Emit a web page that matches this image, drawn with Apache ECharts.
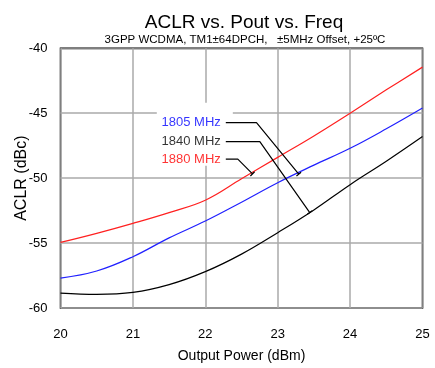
<!DOCTYPE html>
<html>
<head>
<meta charset="utf-8">
<script src="https://cdn.jsdelivr.net/npm/echarts@6/dist/echarts.min.js"></script>
<style>html,body{margin:0;padding:0;background:#fff}#c{width:435px;height:368px}</style>
</head>
<body>
<div id="c"></div>
<script>
const pout = [20, 20.5, 21, 21.5, 22, 22.5, 23, 23.5, 24, 24.5, 25];
const aclr1805 = [-57.7, -57.15, -56.05, -54.6, -53.3, -51.85, -50.35, -49.0, -47.7, -46.2, -44.6];
const aclr1840 = [-58.85, -58.95, -58.8, -58.2, -57.2, -55.85, -54.2, -52.45, -50.5, -48.7, -46.8];
const aclr1880 = [-54.95, -54.25, -53.48, -52.65, -51.7, -50.05, -48.4, -46.75, -45.0, -43.2, -41.45];
const xTicks = [20, 21, 22, 23, 24, 25];
const yTicks = [-60, -55, -50, -45, -40];
const labels = ['1805 MHz', '1840 MHz', '1880 MHz'];
const labelColors = ['#0000ff', '#000000', '#ff0000'];
// leader lines [start, knee, end, tick, tick] in data units
const leader1805 = [[22.283, -45.72], [22.707, -45.72], [23.291, -49.69], [23.323, -49.544], [23.259, -49.836]];
const leader1840 = [[22.283, -47.18], [22.753, -47.18], [23.443, -52.65], [23.477, -52.517], [23.409, -52.783]];
const leader1880 = [[22.283, -48.54], [22.449, -48.54], [22.652, -49.67], [22.681, -49.507], [22.623, -49.833]];
const labelBox = [[21.33, -44.2], [22.38, -49.05]];

const FONT = 'Liberation Sans, Arial, Helvetica, sans-serif';
const chart = echarts.init(document.getElementById('c'));
const zip = (xs, ys) => xs.map((x, i) => [x, ys[i]]);
const leaders = [leader1805, leader1840, leader1880];

function leaderSeries(pts, withBox) {
  const s = {
    type: 'line', data: pts, symbol: 'none',
    lineStyle: {color: '#000', width: 1.2}, silent: true, z: 4
  };
  if (withBox) {
    s.markArea = {silent: true, itemStyle: {color: '#fff'},
      data: [[{coord: labelBox[0]}, {coord: labelBox[1]}]]};
  }
  return s;
}

chart.setOption({
  animation: false,
  backgroundColor: '#fff',
  title: [
    {text: 'ACLR vs. Pout vs. Freq', left: 239, top: 8, textAlign: 'center',
      textStyle: {fontSize: 19, fontWeight: 'normal', color: '#000', fontFamily: FONT}},
    {text: '3GPP WCDMA, TM1±64DPCH,   ±5MHz Offset, +25ºC', left: 240, top: 29, textAlign: 'center',
      textStyle: {fontSize: 11.5, fontWeight: 'normal', color: '#000', fontFamily: FONT}}
  ],
  grid: {left: 60.5, top: 48.3, right: 12.5, bottom: 60, show: true, containLabel: false,
    outerBoundsMode: 'none',
    borderColor: '#000', borderWidth: 1.5, backgroundColor: 'transparent'},
  xAxis: {
    type: 'value', min: 20, max: 25, interval: 1,
    name: 'Output Power (dBm)', nameLocation: 'middle', nameGap: 41,
    nameTextStyle: {fontSize: 14, color: '#000', fontFamily: FONT},
    axisLine: {show: false}, axisTick: {show: false},
    axisLabel: {margin: 20, fontSize: 13, color: '#000', fontFamily: FONT,
      formatter: v => xTicks.includes(v) ? String(v) : ''},
    splitLine: {show: true, lineStyle: {color: '#aaaaaa', width: 1.5}}
  },
  yAxis: {
    type: 'value', min: -60, max: -40, interval: 5,
    name: 'ACLR (dBc)', nameLocation: 'middle', nameGap: 31, nameMoveOverlap: false,
    nameTextStyle: {fontSize: 16, color: '#000', fontFamily: FONT},
    axisLine: {show: false}, axisTick: {show: false},
    axisLabel: {margin: 13, fontSize: 13, color: '#000', fontFamily: FONT,
      formatter: v => yTicks.includes(v) ? String(v) : ''},
    splitLine: {show: true, lineStyle: {color: '#aaaaaa', width: 1.5}}
  },
  series: [
    leaderSeries(leader1805, true),
    leaderSeries(leader1840, false),
    leaderSeries(leader1880, false),
    {type: 'scatter', symbolSize: 0, silent: true, z: 5,
      data: leaders.map((l, i) => ({
        value: l[0],
        label: {show: true, position: 'left', distance: 5, formatter: labels[i],
          color: labelColors[i], fontSize: 13, fontFamily: FONT}
      }))},
    {name: '1880 MHz', type: 'line', data: zip(pout, aclr1880), smooth: 0.4, symbol: 'none',
      lineStyle: {color: '#ff2020', width: 1.2}, z: 3},
    {name: '1805 MHz', type: 'line', data: zip(pout, aclr1805), smooth: 0.4, symbol: 'none',
      lineStyle: {color: '#2020ff', width: 1.2}, z: 3},
    {name: '1840 MHz', type: 'line', data: zip(pout, aclr1840), smooth: 0.4, symbol: 'none',
      lineStyle: {color: '#000', width: 1.2}, z: 3}
  ]
});
</script>
</body>
</html>
